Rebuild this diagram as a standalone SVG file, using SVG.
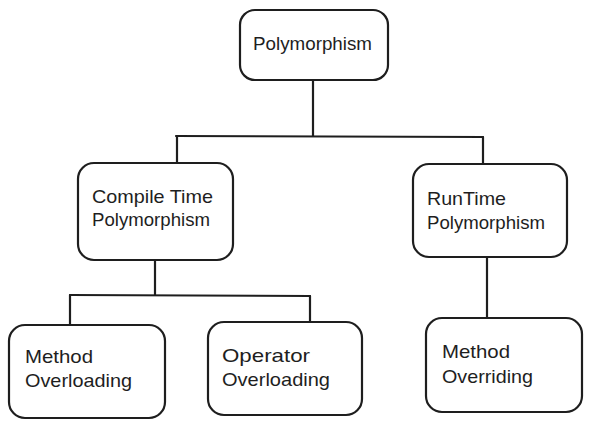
<svg xmlns="http://www.w3.org/2000/svg" width="591" height="429" viewBox="0 0 591 429">
<style>
.box{fill:#ffffff;stroke:#1e1e1e;stroke-width:2.2;stroke-linejoin:round}
.ln{fill:none;stroke:#1e1e1e;stroke-width:2.2;stroke-linecap:round}
.t{font-family:"Liberation Sans",Arial,sans-serif;font-size:19px;fill:#1e1e1e}
</style>
<rect width="591" height="429" fill="#ffffff"/>
<g id="connectors">
<path class="ln" d="M313,80 L313,136"/>
<path class="ln" d="M176,136 L483,137"/>
<path class="ln" d="M177,136 L177,164"/>
<path class="ln" d="M483,137 L483,163"/>
<path class="ln" d="M155,260 L155,295"/>
<path class="ln" d="M70,295 L310,296"/>
<path class="ln" d="M70,295 L70,324"/>
<path class="ln" d="M310,296 L310,321"/>
<path class="ln" d="M487,257 L487,317"/>
</g>
<g id="polymorphism">
<rect class="box" x="240" y="10" width="148" height="70" rx="15"/>
<text class="t" x="253" y="50" textLength="119" lengthAdjust="spacingAndGlyphs">Polymorphism</text>
</g>
<g id="compile-time">
<rect class="box" x="78" y="163" width="155" height="97" rx="16"/>
<text class="t" x="92" y="203" textLength="121" lengthAdjust="spacingAndGlyphs">Compile Time</text>
<text class="t" x="92" y="226" textLength="118" lengthAdjust="spacingAndGlyphs">Polymorphism</text>
</g>
<g id="runtime">
<rect class="box" x="413" y="164" width="154" height="93" rx="16"/>
<text class="t" x="427" y="205" textLength="79" lengthAdjust="spacingAndGlyphs">RunTime</text>
<text class="t" x="427" y="229" textLength="118" lengthAdjust="spacingAndGlyphs">Polymorphism</text>
</g>
<g id="method-overloading">
<rect class="box" x="9" y="325" width="156" height="93" rx="16"/>
<text class="t" x="25" y="363" textLength="68" lengthAdjust="spacingAndGlyphs">Method</text>
<text class="t" x="25" y="387" textLength="107" lengthAdjust="spacingAndGlyphs">Overloading</text>
</g>
<g id="operator-overloading">
<rect class="box" x="208" y="322" width="154" height="93" rx="16"/>
<text class="t" x="222" y="362" textLength="88" lengthAdjust="spacingAndGlyphs">Operator</text>
<text class="t" x="222" y="386" textLength="108" lengthAdjust="spacingAndGlyphs">Overloading</text>
</g>
<g id="method-overriding">
<rect class="box" x="426" y="318" width="156" height="94" rx="16"/>
<text class="t" x="442" y="358" textLength="68" lengthAdjust="spacingAndGlyphs">Method</text>
<text class="t" x="442" y="383" textLength="91" lengthAdjust="spacingAndGlyphs">Overriding</text>
</g>
</svg>
